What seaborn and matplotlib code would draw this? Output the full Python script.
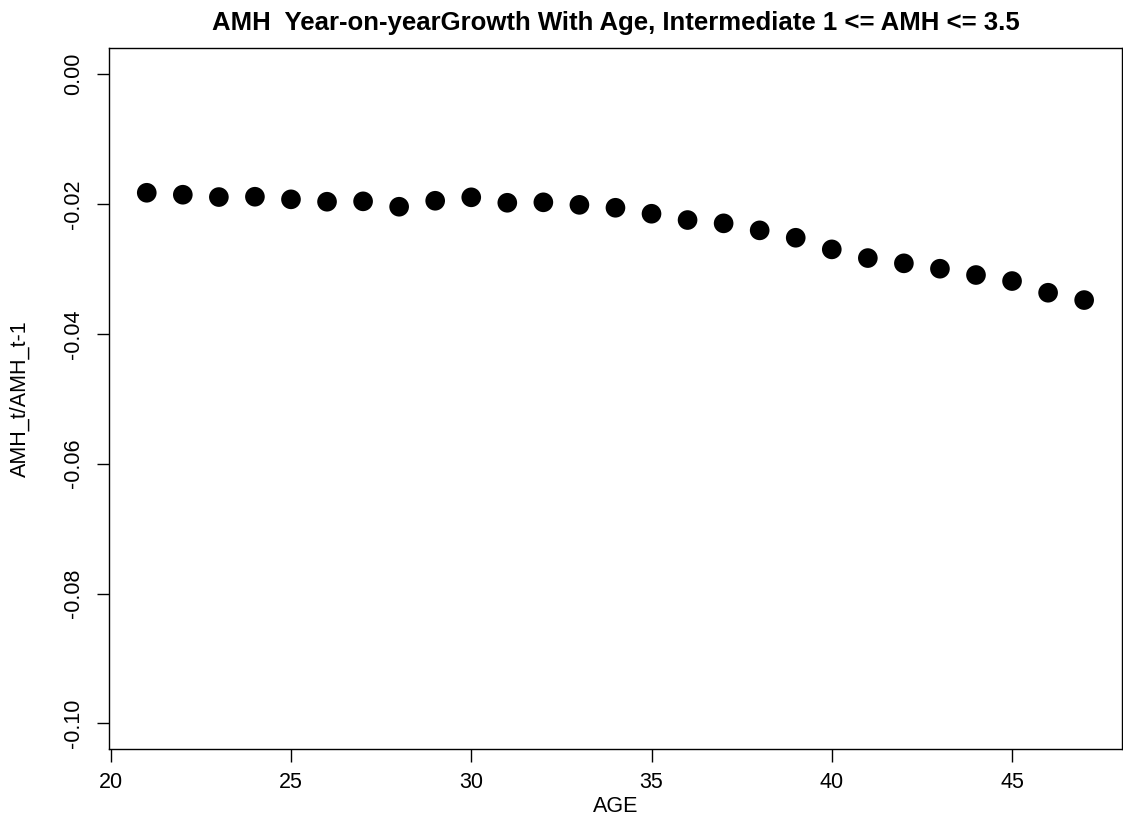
import matplotlib
matplotlib.use("Agg")
import matplotlib.pyplot as plt
import seaborn as sns
import pandas as pd

ages = list(range(21, 48))
growth = [-0.01826, -0.01856, -0.01892, -0.01887, -0.01927, -0.01964, -0.01958,
          -0.02041, -0.01949, -0.01896, -0.01980, -0.01973, -0.02012, -0.02057,
          -0.02149, -0.02246, -0.02297, -0.02405, -0.02519, -0.02698, -0.02832,
          -0.02913, -0.02996, -0.03093, -0.03186, -0.03366, -0.03479]
x_ticks = [20, 25, 30, 35, 40, 45]
y_ticks = [0.00, -0.02, -0.04, -0.06, -0.08, -0.10]
y_tick_labels = ["0.00", "-0.02", "-0.04", "-0.06", "-0.08", "-0.10"]

df = pd.DataFrame({"AGE": ages, "growth": growth})

sns.set_style("white")
plt.rcParams['font.family'] = ['Liberation Sans', 'DejaVu Sans']
plt.rcParams['text.color'] = 'black'
plt.rcParams['axes.labelcolor'] = 'black'
plt.rcParams['xtick.color'] = 'black'
plt.rcParams['ytick.color'] = 'black'

fig = plt.figure(figsize=(11.23, 8.21), dpi=100)
ax = fig.add_axes([0.0973, 0.0873, 0.9988 - 0.0973, 0.9412 - 0.0873])

sns.scatterplot(data=df, x="AGE", y="growth", ax=ax, color="black",
                s=200, linewidth=0, edgecolor="none")

ax.set_xlim(19.96, 48.04)
ax.set_ylim(-0.104, 0.004)
ax.set_xticks(x_ticks)
ax.set_xticklabels([str(t) for t in x_ticks])
ax.set_yticks(y_ticks)
ax.set_yticklabels(y_tick_labels, rotation=90, va="center")

for s in ax.spines.values():
    s.set_color("black")
    s.set_linewidth(1.0)

ax.tick_params(axis="both", direction="out", length=9, width=1.0,
               color="black", labelsize=15.5, labelcolor="black",
               bottom=True, left=True)
ax.tick_params(axis="x", pad=7)
ax.tick_params(axis="y", pad=9)

ax.set_xlabel("AGE", fontsize=15.5, va="center")
ax.xaxis.set_label_coords(0.5, -0.081)
ax.set_ylabel("AMH_t/AMH_t-1", fontsize=15.5, va="center")
ax.yaxis.set_label_coords(-0.088, 0.5)
ax.set_title("AMH  Year-on-yearGrowth With Age, Intermediate 1 <= AMH <= 3.5",
             fontsize=18.5, fontweight="bold", color="black", pad=13)

fig.savefig("out.png", dpi=100)
